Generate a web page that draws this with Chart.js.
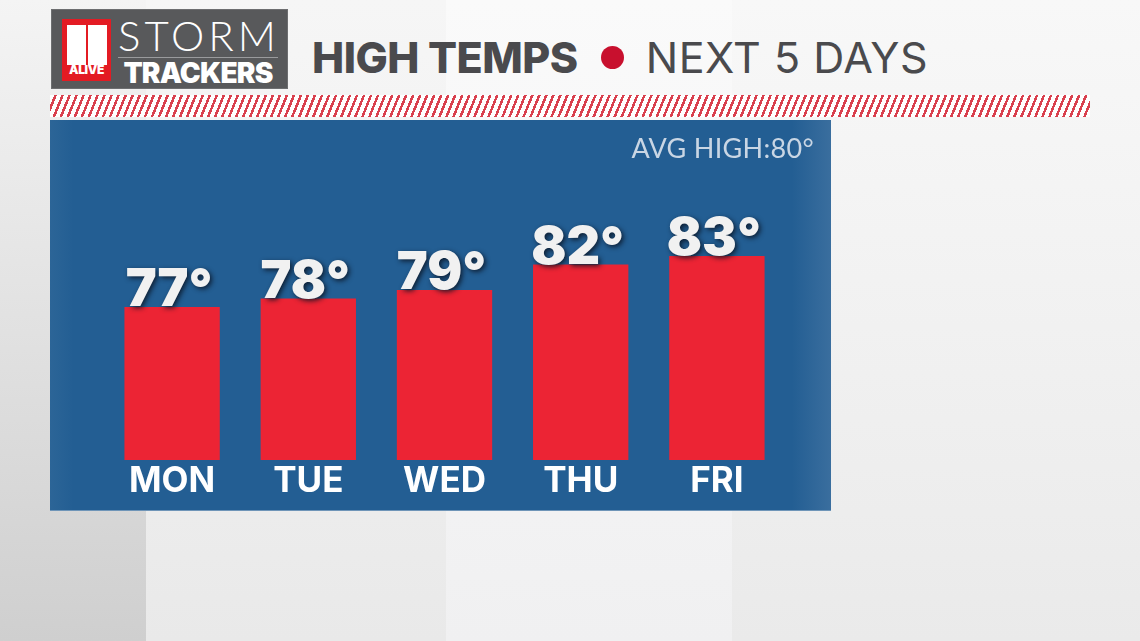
<!DOCTYPE html>
<html>
<head>
<meta charset="utf-8">
<script src="https://cdn.jsdelivr.net/npm/chart.js@4"></script>
<style>
  html, body { margin: 0; padding: 0; }
  body {
    width: 1140px; height: 641px; overflow: hidden; position: relative;
    font-family: "Inter", "Open Sans", sans-serif;
    background: linear-gradient(180deg, #fafafa 0%, #f3f3f3 20%, #ececec 100%);
  }
  /* fundo com painéis claros */
  .fundo { position: absolute; top: 0; bottom: 0; }
  .f1 { left: 0; width: 146px; background: linear-gradient(180deg, #f4f4f4 0%, #dedede 60%, #cfcfcf 100%); }
  .f2 { left: 146px; width: 300px; background: linear-gradient(180deg, #f6f6f6 0%, #ececec 80%, #e9e9e9 100%); }
  .f3 { left: 446px; width: 286px; background: linear-gradient(180deg, #fafafa 0%, #f2f2f3 80%, #f0f0f1 100%); }
  .f4 { left: 732px; right: 0; background: linear-gradient(180deg, #f8f8f8 0%, #ededed 80%, #eaeaea 100%); }

  .logo {
    position: absolute; left: 52px; top: 10px; width: 235px; height: 78px;
    background: #58595b; box-shadow: 0 0 0 1px #6d6e70;
  }
  .logo .quadro {
    position: absolute; left: 10px; top: 9px; width: 49px; height: 62px; background: #e31b23;
  }
  .logo .quadro .um {
    position: absolute; top: 6px; width: 19px; height: 40px; background: #fff;
  }
  .logo .quadro .alive {
    position: absolute; left: 0; right: 0; bottom: 4px; text-align: center;
    color: #fff; font: 900 12px "Inter", sans-serif; letter-spacing: -0.3px;
  }
  .logo .storm {
    position: absolute; left: 62px; top: 4px; width: 170px; text-align: center;
    color: #fff; font: 300 42px "Lato", sans-serif; letter-spacing: 4px; line-height: 1;
  }
  .logo .linha { position: absolute; left: 66px; top: 47px; width: 160px; height: 1px; background: #9a9b9d; }
  .logo .trackers {
    position: absolute; left: 62px; top: 49px; width: 168px; text-align: center;
    color: #fff; font: 900 28px "Inter", sans-serif; letter-spacing: -0.8px; line-height: 1;
  }

  .titulo {
    position: absolute; left: 312px; top: 32px; color: #4a4a4d;
    font-size: 43px; line-height: 50px; white-space: nowrap;
  }
  .titulo b { font-weight: 800; letter-spacing: -0.5px; }
  .titulo .ponto {
    display: inline-block; width: 23px; height: 23px; border-radius: 50%;
    background: #c8102e; margin: 0 22px 0 23px; vertical-align: 4px;
  }
  .titulo span.leve { font-weight: 400; letter-spacing: 0.5px; }

  .faixa {
    position: absolute; left: 50px; top: 95px; width: 1040px; height: 22px;
    background: repeating-linear-gradient(112deg, #ffffff 0px, #ffffff 4px, #d9404e 4px, #d9404e 6.5px);
  }

  .painel {
    position: absolute; left: 50px; top: 120px; width: 781px; height: 390px;
    background: linear-gradient(90deg, #2c6597 0%, #235e93 3%, #235e93 95%, #3a6e9e 100%);
    box-shadow: 0 1px 0 #6f95b8;
  }
  .media {
    position: absolute; right: 17px; top: 11px; color: #c9d6e4;
    font: 400 27px "Lato", sans-serif; letter-spacing: 0.3px;
  }
</style>
</head>
<body>
<div class="fundo f1"></div><div class="fundo f2"></div><div class="fundo f3"></div><div class="fundo f4"></div>

<div class="logo">
  <div class="quadro">
    <div class="um" style="left:5px"></div>
    <div class="um" style="left:26px"></div>
    <div class="alive">ALIVE</div>
  </div>
  <div class="storm">STORM</div>
  <div class="linha"></div>
  <div class="trackers">TRACKERS</div>
</div>

<div class="titulo"><b>HIGH TEMPS</b><span class="ponto"></span><span class="leve">NEXT 5 DAYS</span></div>
<div class="faixa"></div>

<div class="painel">
  <canvas id="graficoMaximas"></canvas>
  <div class="media">AVG HIGH:80°</div>
</div>

<script>
const dias = ["MON", "TUE", "WED", "THU", "FRI"];
const maximas = [77, 78, 79, 82, 83];
const mediaMaxima = 80;

document.querySelector(".media").textContent = "AVG HIGH:" + mediaMaxima + "°";

// rótulos com a temperatura acima de cada barra
const rotulosTemp = {
  id: "rotulosTemp",
  afterDatasetsDraw(chart) {
    const ctx = chart.ctx;
    const barras = chart.getDatasetMeta(0).data;
    ctx.save();
    ctx.font = "900 52px Inter, sans-serif";
    ctx.textAlign = "center";
    ctx.textBaseline = "alphabetic";
    ctx.fillStyle = "#f1f1f1";
    ctx.shadowColor = "rgba(10,20,35,0.85)";
    ctx.shadowBlur = 5;
    ctx.shadowOffsetX = 2;
    ctx.shadowOffsetY = 2;
    barras.forEach(function(barra, i) {
      ctx.fillText(maximas[i] + "°", barra.x - 3, barra.y - 1);
    });
    ctx.restore();
  }
};

new Chart(document.getElementById("graficoMaximas"), {
  type: "bar",
  data: {
    labels: dias,
    datasets: [{
      data: maximas,
      backgroundColor: "#ec2434",
      borderWidth: 0,
      barPercentage: 0.7,
      categoryPercentage: 1
    }]
  },
  options: {
    responsive: true,
    maintainAspectRatio: false,
    animation: false,
    layout: { padding: { left: 54, right: 46, top: 0, bottom: 8 } },
    plugins: { legend: { display: false }, tooltip: { enabled: false } },
    scales: {
      x: {
        grid: { display: false, drawTicks: false },
        border: { display: false },
        ticks: { color: "#ffffff", padding: 0, font: { family: "Inter", size: 35, weight: "700" } }
      },
      y: {
        display: false,
        min: 59,
        max: 99
      }
    }
  },
  plugins: [rotulosTemp]
});
</script>
</body>
</html>
